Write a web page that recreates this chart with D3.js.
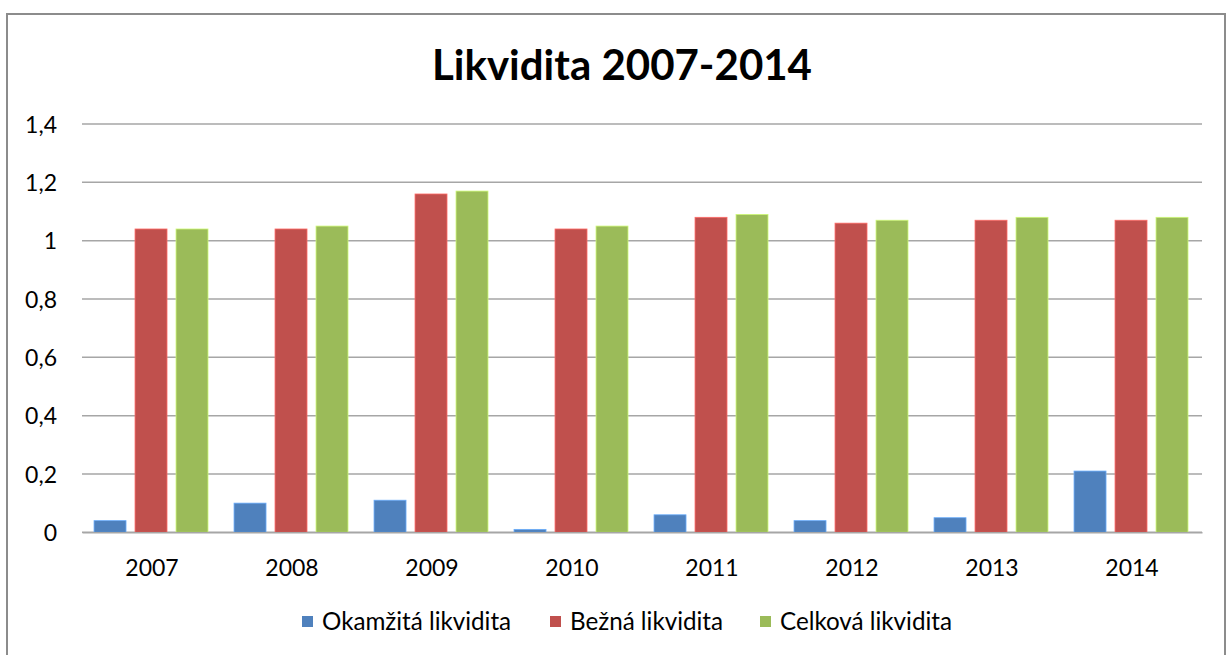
<!DOCTYPE html>
<html><head><meta charset="utf-8">
<script src="https://cdn.jsdelivr.net/npm/d3@7"></script>
<style>body{margin:0;background:#fff;} svg{display:block;}</style>
</head><body>
<svg id="chart" width="1228" height="655"></svg>
<script>
const categories = ["2007","2008","2009","2010","2011","2012","2013","2014"];
const seriesNames = ["Okamžitá likvidita","Bežná likvidita","Celková likvidita"];
const okamzita = [0.04,0.10,0.11,0.01,0.06,0.04,0.05,0.21];
const bezna    = [1.04,1.04,1.16,1.04,1.08,1.06,1.07,1.07];
const celkova  = [1.04,1.05,1.17,1.05,1.09,1.07,1.08,1.08];
const yTicks = [0,0.2,0.4,0.6,0.8,1,1.2,1.4];
const colors = ["#4F81BD","#C0504D","#9BBB59"];
const seriesValues = [okamzita, bezna, celkova];

const svg = d3.select("#chart");
const font = "Lato, 'Open Sans', sans-serif";
const plotLeft = 82, plotRight = 1202, plotTop = 124, plotBottom = 532.3;

svg.append("rect").attr("x",7).attr("y",14).attr("width",1218).attr("height",700)
  .attr("fill","#fff").attr("stroke","#8c8c8c").attr("stroke-width",2);

svg.append("text").attr("x",622).attr("y",80).attr("text-anchor","middle")
  .attr("font-family",font).attr("font-weight","bold").attr("font-size",42)
  .attr("fill","#000").text("Likvidita 2007-2014");

const y = d3.scaleLinear().domain([0,1.4]).range([plotBottom, plotTop]);
const x0 = d3.scaleBand().domain(categories).range([plotLeft, plotRight]).padding(0);
const bw = x0.bandwidth();
const x1 = d3.scaleBand().domain(seriesNames).range([bw*0.086, bw*0.9]).paddingInner(0.22).paddingOuter(0);

// gridlines
svg.append("g").selectAll("line").data(yTicks).join("line")
  .attr("x1",plotLeft).attr("x2",plotRight)
  .attr("y1",d=>y(d)).attr("y2",d=>y(d))
  .attr("stroke","#a6a6a6").attr("stroke-width",1.5);

// y labels
const yAxis = d3.axisLeft(y).tickValues(yTicks).tickSize(0).tickPadding(0)
  .tickFormat(d => String(+d.toFixed(1)).replace(".", ","));
const gy = svg.append("g").attr("transform",`translate(${plotLeft-25},0)`).call(yAxis);
gy.select(".domain").remove();
gy.selectAll("text").attr("font-family",font).attr("font-size",23).attr("fill","#000").attr("dy","0.35em");

// bars
const groups = svg.append("g").selectAll("g").data(categories).join("g")
  .attr("transform",d=>`translate(${x0(d)},0)`);
groups.selectAll("rect").data((c,i)=>seriesNames.map((s,j)=>({s, j, v: seriesValues[j][i]})))
  .join("rect")
  .attr("x",d=>x1(d.s)).attr("width",x1.bandwidth())
  .attr("y",d=>y(d.v)).attr("height",d=>y(0)-y(d.v))
  .attr("fill",d=>colors[d.j])
  .attr("stroke",d=>d3.color(colors[d.j]).brighter(0.8)).attr("stroke-width",0.8);

// x axis
const xAxis = d3.axisBottom(x0).tickSize(0).tickPadding(0);
const gx = svg.append("g").attr("transform",`translate(0,${plotBottom})`).call(xAxis);
gx.select(".domain").attr("stroke","#a6a6a6").attr("stroke-width",1.5);
gx.selectAll("text").attr("font-family",font).attr("font-size",23).attr("fill","#000").attr("y",36).attr("dy","0.35em");

// legend
const legendX = [302, 550, 760];
const lg = svg.append("g").selectAll("g").data(seriesNames).join("g")
  .attr("transform",(d,i)=>`translate(${legendX[i]},622)`);
lg.append("rect").attr("x",0).attr("y",-6).attr("width",11).attr("height",11).attr("fill",(d,i)=>colors[i]);
lg.append("text").attr("x",20).attr("y",0).attr("dy","0.35em")
  .attr("font-family",font).attr("font-size",24.2).attr("fill","#000").text(d=>d);
</script>
</body></html>
